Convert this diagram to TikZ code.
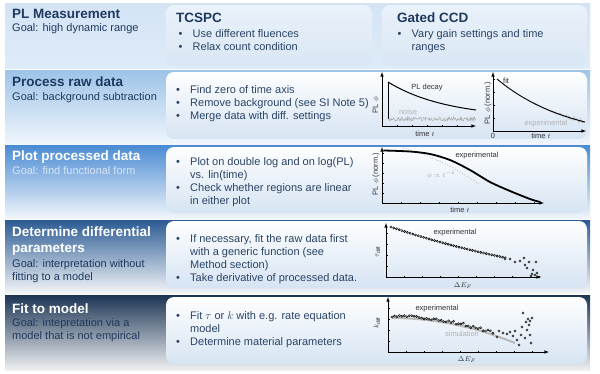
\documentclass[tikz,border=0pt]{standalone}
\usepackage{fontspec}
\setmainfont{Liberation Sans}
\usepackage{tikz}
\usetikzlibrary{arrows}
\definecolor{navy}{HTML}{1F3A5F}
\definecolor{ink}{HTML}{2A4466}
\definecolor{paleblue}{HTML}{D6E4F3}
\definecolor{goallight}{HTML}{D8E5F4}
\newcommand{\itemrows}[1]{\begin{tabular}[t]{@{}p{14pt}@{}l@{}}#1\end{tabular}}
\newcommand{\bu}{\textbullet}

\begin{document}
\begin{tikzpicture}[x=1pt, y=-1pt,
    band/.style={rectangle, minimum width=585pt, inner sep=0pt, outer sep=0pt},
    panel/.style={rectangle, rounded corners=8pt, inner sep=0pt, outer sep=0pt, top color=white!97!paleblue, bottom color=paleblue},
    title/.style={anchor=base west, inner sep=0pt, align=left, font=\fontsize{13.5}{16}\selectfont\bfseries},
    goal/.style={anchor=base west, inner sep=0pt, align=left, font=\fontsize{11}{13}\selectfont},
    bullets/.style={anchor=base west, inner sep=0pt, text=ink, font=\fontsize{11}{13}\selectfont},
    lbl/.style={inner sep=0pt, text=black!80, font=\fontsize{7.5}{8}\selectfont},
    axis/.style={->, >=latex, line width=0.6pt},
    dot/.style={draw=black, fill=gray!40, line width=0.45pt}
]
    \fill[white] (0,0) rectangle (600,373);
    \useasboundingbox (0,0) rectangle (600,373);

    % bands
    \node[band, minimum height=65pt, top color={rgb,255:red,212;green,228;blue,245}, bottom color={rgb,255:red,222;green,235;blue,248}] (row1) at (297.5,35.5) {};
    \node[band, minimum height=74pt, top color={rgb,255:red,157;green,195;blue,232}, bottom color={rgb,255:red,240;green,246;blue,252}] (row2) at (297.5,107) {};
    \node[band, minimum height=73pt, top color={rgb,255:red,74;green,139;blue,211}, bottom color={rgb,255:red,240;green,245;blue,251}] (row3) at (297.5,181.5) {};
    \node[band, minimum height=73pt, top color={rgb,255:red,43;green,91;blue,147}, bottom color={rgb,255:red,243;green,245;blue,248}] (row4) at (297.5,256.5) {};
    \node[band, minimum height=75pt, top color={rgb,255:red,28;green,52;blue,84}, bottom color={rgb,255:red,238;green,240;blue,242}] (row5) at (297.5,332.5) {};

    % row 1: PL measurement
    \node[title, text=navy] (t1) at (12,18) {PL Measurement};
    \node[goal, text=navy] (g1) at (12,31) {Goal: high dynamic range};
    \node[panel, minimum width=206pt, minimum height=61pt, top color={rgb,255:red,234;green,242;blue,250}, bottom color={rgb,255:red,217;green,230;blue,244}] (tcspc) at (269,35.5) {};
    \node[title, text=navy] (htcspc) at (176,22.5) {TCSPC};
    \node[bullets] (btcspc) at (178.5,37) {\itemrows{\bu & Use different fluences\\ \bu & Relax count condition}};
    \node[panel, minimum width=205pt, minimum height=61pt, top color={rgb,255:red,234;green,242;blue,250}, bottom color={rgb,255:red,217;green,230;blue,244}] (ccd) at (484.5,35.5) {};
    \node[title, text=navy] (hccd) at (397,22.5) {Gated CCD};
    \node[bullets] (bccd) at (397.5,37) {\itemrows{\bu & Vary gain settings and time\\ & ranges}};

    % row 2: process raw data
    \node[title, text=navy] (t2) at (12,86.5) {Process raw data};
    \node[goal, text=navy] (g2) at (12,100.5) {Goal: background subtraction};
    \node[panel, minimum width=421pt, minimum height=67pt] (p2) at (376.5,105.5) {};
    \node[bullets] (b2) at (176,93.5) {\itemrows{\bu & Find zero of time axis\\ \bu & Remove background (see SI Note 5)\\ \bu & Merge data with diff. settings}};

    \coordinate (o2a) at (382,126);
    \foreach \t in {1,...,5} \draw[line width=0.4pt] (382+15*\t,126) -- ++(0,-1.5);
    \pgfmathsetseed{7}
    \draw[gray!70, line width=0.4pt] plot[domain=388:476, samples=150] (\x,{119+2*rand});
    \draw[line width=0.8pt] (388,82) -- (388,119);
    \draw[line width=1pt] plot[domain=0:1, samples=40] ({388+88*\x},{82+28*(1-exp(-1.5*\x))/(1-exp(-1.5))});
    \draw[axis] (o2a) -- ++(0,-54);
    \draw[axis] (o2a) -- ++(94,0);
    \node[lbl] (d2a) at (427,88) {PL decay};
    \node[lbl, text=gray!60] (n2a) at (408,112) {noise};
    \node[lbl] (x2a) at (425,134) {time $t$};
    \node[lbl, rotate=90] (y2a) at (376,105) {PL $\phi$};

    \coordinate (o2b) at (493,131);
    \foreach \t in {1,...,4} \draw[line width=0.4pt] (493,131-13*\t) -- ++(1.5,0);
    \draw[gray!60, line width=0.4pt] plot[domain=0.35:1, samples=110] ({497+88*\x},{79+43*(1-exp(-1.2*\x))/(1-exp(-1.2))+3*\x*\x*rand});
    \draw[line width=0.9pt] plot[domain=0:1, samples=40] ({497+88*\x},{79+43*(1-exp(-1.2*\x))/(1-exp(-1.2))});
    \draw[axis] (o2b) -- ++(0,-59);
    \draw[axis] (o2b) -- ++(93,0);
    \node[lbl, anchor=west] (f2b) at (503,81) {fit};
    \node[lbl, text=gray!60] (e2b) at (546,124) {experimental};
    \node[lbl] (z2b) at (493,135.5) {0};
    \node[lbl] (x2b) at (541,135.5) {time $t$};
    \node[lbl, rotate=90] (y2b) at (488,103) {PL $\phi$ (norm.)};

    % row 3: plot processed data
    \node[title, text=white] (t3) at (12,160.7) {Plot processed data};
    \node[goal, text=goallight] (g3) at (12,174.3) {Goal: find functional form};
    \node[panel, minimum width=421pt, minimum height=66pt] (p3) at (376.5,180) {};
    \node[bullets] (b3) at (176,165) {\itemrows{\bu & Plot on double log and on log(PL)\\ & vs. lin(time)\\ \bu & Check whether regions are linear\\ & in either plot}};

    \coordinate (o3) at (382,203);
    \foreach \t in {1,...,8} \draw[line width=0.4pt] (382+19*\t,203) -- ++(0,-1.5);
    \foreach \t in {1,...,5} \draw[line width=0.4pt] (382,203-10*\t) -- ++(1.5,0);
    \draw[gray!60, dotted, line width=0.8pt] plot[smooth] coordinates {(403,148) (430,157) (455,169) (479,184)};
    \draw[line width=1.8pt, line cap=round] plot[smooth] coordinates {(384,150.5) (410,151.5) (430,154) (450,160) (470,170) (490,182) (510,191) (530,199) (540,202)};
    \draw[axis] (o3) -- ++(0,-56);
    \draw[axis] (o3) -- ++(162,0);
    \node[lbl] (e3) at (477,156) {experimental};
    \node[lbl, text=gray!70] (s3) at (441,175) {$\phi\propto t^{-2}$};
    \node[lbl] (x3) at (460,210) {time $t$};
    \node[lbl, rotate=90] (y3) at (376,174) {PL $\phi$ (norm.)};

    % row 4: differential parameters
    \node[title, text=white] (t4) at (12,252) {Determine differential\\parameters};
    \node[goal, text=navy] (g4) at (12,280) {Goal: interpretation without\\fitting to a model};
    \node[panel, minimum width=421pt, minimum height=67pt] (p4) at (376.5,254.5) {};
    \node[bullets] (b4) at (176,242) {\itemrows{\bu & If necessary, fit the raw data first\\ & with a generic function (see\\ & Method section)\\ \bu & Take derivative of processed data.}};

    \coordinate (o4) at (386,277);
    \foreach \t in {1,...,8} \draw[line width=0.4pt] (386+18*\t,277) -- ++(0,-1.5);
    \foreach \t in {1,...,4} \draw[line width=0.4pt] (386,277-11*\t) -- ++(1.5,0);
    \foreach \u in {0,0.02,...,0.86}
        \draw[dot] ({391+136*\u},{227+35*(1-exp(-0.6*\u))/(1-exp(-0.6))}) circle (1.1pt);
    \foreach \px/\py in {505/259,510/259,515/262,520/261,524/258,525/265,527/268,529/262,533/270,535/275,537/273,539/277,531/276,536/262,532/274}
        \draw[dot] (\px,\py) circle (1.1pt);
    \draw[axis] (o4) -- ++(0,-54);
    \draw[axis] (o4) -- ++(155,0);
    \node[lbl] (e4) at (455,233) {experimental};
    \node[lbl] (x4) at (463,286) {$\Delta E_F$};
    \node[lbl, rotate=90] (y4) at (378,252) {$\tau_\mathrm{diff}$};

    % row 5: fit to model
    \node[title, text=white] (t5) at (12,313) {Fit to model};
    \node[goal, text=navy] (g5) at (12,339.7) {Goal: intepretation via a\\model that is not empirical};
    \node[panel, minimum width=421pt, minimum height=67pt] (p5) at (376.5,330.5) {};
    \node[bullets] (b5) at (176,319.7) {\itemrows{\bu & Fit $\tau$ or $k$ with e.g. rate equation\\ & model\\ \bu & Determine material parameters}};

    \coordinate (o5) at (388,352);
    \foreach \t in {1,...,8} \draw[line width=0.4pt] (388+18*\t,352) -- ++(0,-1.5);
    \foreach \t in {1,...,4} \draw[line width=0.4pt] (388,352-11*\t) -- ++(1.5,0);
    \draw[gray!55, line width=2pt] plot[domain=0:1, samples=30] ({392+123*\x},{318+25*\x*\x});
    \pgfmathsetseed{11}
    \foreach \u in {0,0.02,...,0.84} {
        \pgfmathsetmacro{\px}{392+123*\u}
        \pgfmathsetmacro{\py}{317+25*\u*\u-1+1.5*rand}
        \draw[dot] (\px,\py) circle (1.1pt);
    }
    \foreach \px/\py in {497/337,499/331,503/333,507/334,510/332,513/336,515/331,517/340,519/345,521/335,522/327,523/313,525/338,526/322,527/330,528/319,529/325,530/321,531/343,532/318,530/335}
        \draw[dot] (\px,\py) circle (1.1pt);
    \draw[axis] (o5) -- ++(0,-55);
    \draw[axis] (o5) -- ++(161,0);
    \node[lbl] (e5) at (437,309) {experimental};
    \node[lbl, text=gray!60] (s5) at (462,334) {simulation};
    \node[lbl] (x5) at (467,360) {$\Delta E_F$};
    \node[lbl, rotate=90] (y5) at (377,323) {$k_\mathrm{diff}$};
\end{tikzpicture}
\end{document}
